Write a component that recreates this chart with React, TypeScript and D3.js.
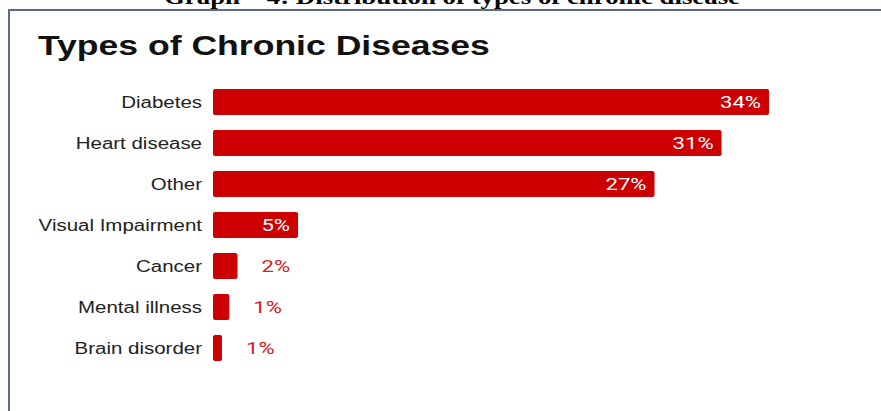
import React from "react";
import * as d3 from "d3";

const categories = ["Diabetes", "Heart disease", "Other", "Visual Impairment", "Cancer", "Mental illness", "Brain disorder"];
const values = [34, 31.1, 27, 5.2, 1.5, 1.0, 0.55];
const valueLabels = ["34%", "31%", "27%", "5%", "2%", "1%", "1%"];
const chartTitle = "Types of Chronic Diseases";
const caption = "Graph \u2013 4: Distribution of types of chronic disease";

export default function App() {
  const W = 881, H = 411;
  const x0 = 213;
  const x = d3.scaleLinear().domain([0, 34]).range([x0, 769]);
  const y = d3.scaleBand<string>().domain(categories).range([81.5, 368.5]).paddingInner(0.366).paddingOuter(0.183);
  const red = "#cc0000";
  const sans = "Liberation Sans, Arial, sans-serif";
  return (
    <svg width={W} height={H} style={{ position: "absolute", left: 0, top: 0, background: "#fff" }}>
      <text transform="translate(452,4) scale(1.22,1)" textAnchor="middle" fontFamily="Liberation Serif, Times New Roman, serif" fontWeight="bold" fontSize={22}>{caption}</text>
      <path d={`M9,${H} V10 H${W}`} fill="none" stroke="#5b6b82" strokeWidth={2} />
      <text transform="translate(38,55) scale(1.27,1)" fontFamily={sans} fontWeight="bold" fontSize={28} fill="#111">{chartTitle}</text>
      {categories.map((c, i) => {
        const yy = y(c)!;
        const bw = y.bandwidth();
        const cy = yy + bw / 2;
        const xe = x(values[i]);
        const inside = values[i] >= 5;
        return (
          <g key={c}>
            <text transform={`translate(202,${cy}) scale(1.28,1)`} dy="0.35em" textAnchor="end" fontFamily={sans} fontSize={16} fill="#222">{c}</text>
            <rect x={x0} y={yy} width={xe - x0} height={bw} rx={2} fill={red} />
            {inside ? (
              <text transform={`translate(${xe - 8},${cy}) scale(1.3,1)`} dy="0.36em" textAnchor="end" fontFamily="Roboto, Liberation Sans, sans-serif" fontSize={17} fill="#fff">{valueLabels[i]}</text>
            ) : (
              <text transform={`translate(${xe + 24},${cy}) scale(1.3,1)`} dy="0.36em" textAnchor="start" fontFamily="Roboto, Liberation Sans, sans-serif" fontSize={17} fill="#d42020">{valueLabels[i]}</text>
            )}
          </g>
        );
      })}
    </svg>
  );
}
